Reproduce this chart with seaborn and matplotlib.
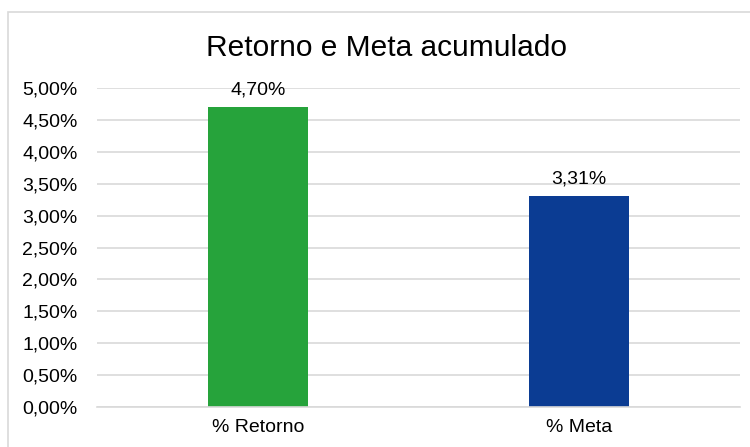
import matplotlib
matplotlib.use("Agg")
import matplotlib.pyplot as plt
import seaborn as sns
import pandas as pd
from matplotlib.patches import Rectangle
from matplotlib.ticker import FuncFormatter, MultipleLocator

categories = ["% Retorno", "% Meta"]
values = [4.70, 3.31]
colors = ["#26A33B", "#0B3C93"]
title = "Retorno e Meta acumulado"


def pct(v, _=None):
    return f"{v:.2f}%".replace(".", ",")


def main():
    sns.set_style("white")
    plt.rcParams["font.family"] = ["Liberation Sans", "DejaVu Sans"]

    df = pd.DataFrame({"cat": categories, "val": values})

    fig = plt.figure(figsize=(7.5, 4.47), dpi=100)
    ax = fig.add_axes([0.1293, 0.0895, 0.8574, 0.7135])

    sns.barplot(data=df, x="cat", y="val", hue="cat", palette=colors,
                width=0.31, legend=False, saturation=1, linewidth=0, ax=ax)

    ax.set_ylim(0, 5)
    ax.yaxis.set_major_locator(MultipleLocator(0.5))
    ax.yaxis.set_major_formatter(FuncFormatter(pct))
    ax.grid(axis="y", color="#D9D9D9", linewidth=1.2)
    ax.set_axisbelow(True)
    for side in ["top", "right", "left"]:
        ax.spines[side].set_visible(False)
    ax.spines["bottom"].set_color("#D9D9D9")
    ax.spines["bottom"].set_linewidth(1.2)
    ax.tick_params(axis="both", length=0, labelsize=14, colors="#000000")
    ax.tick_params(axis="y", pad=14)
    ax.tick_params(axis="x", pad=9)
    ax.set_xlabel("")
    ax.set_ylabel("")

    for i, v in enumerate(values):
        ax.annotate(pct(v), (i, v), xytext=(0, 6), textcoords="offset points",
                    ha="center", va="bottom", fontsize=14, color="#000000")

    fig.text(0.516, 0.893, title, ha="center", va="center", fontsize=21.5, color="#000000")

    # chart frame like excel
    fig.patches.append(Rectangle((8 / 750, -0.1), 1.2, 1.1 - 12 / 447,
                                 transform=fig.transFigure, fill=False,
                                 edgecolor="#D9D9D9", linewidth=1.2))

    fig.savefig("out.png", dpi=100)
    plt.close(fig)


if __name__ == "__main__":
    main()
